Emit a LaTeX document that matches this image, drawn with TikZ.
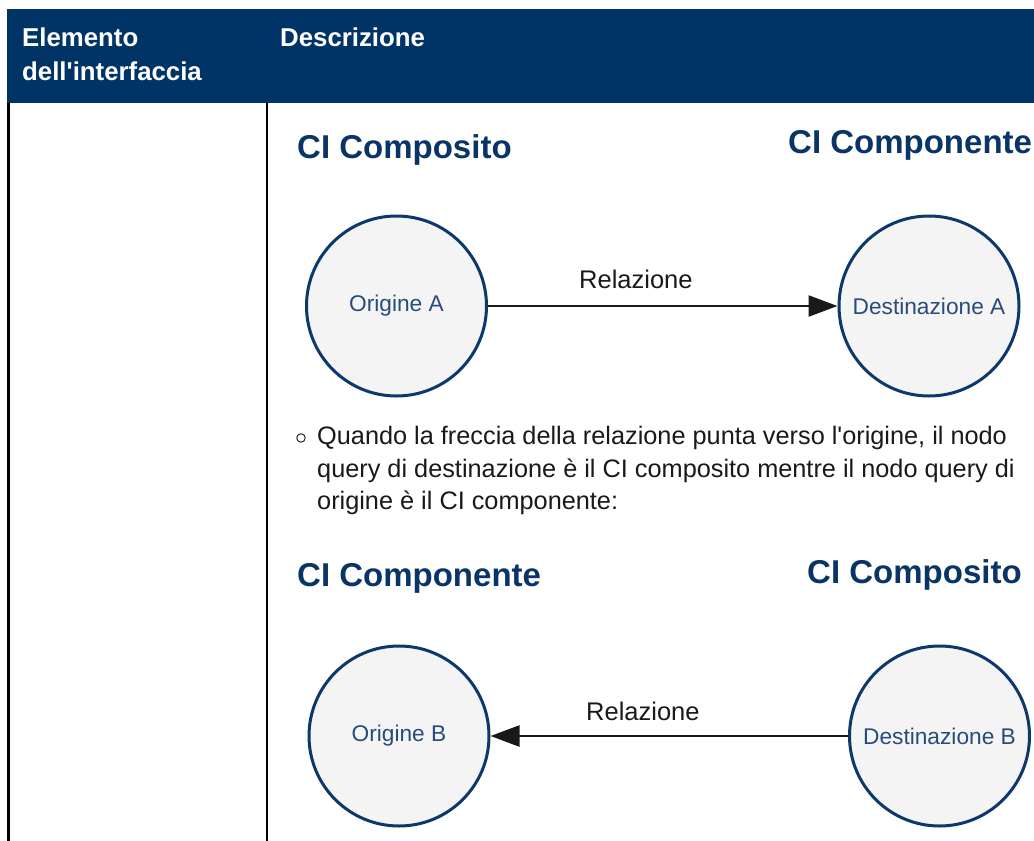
\documentclass[tikz,border=0pt]{standalone}
\usepackage{fontspec}
\setmainfont{Liberation Sans}[Ligatures=TeXOff]
\usetikzlibrary{arrows.meta}
\definecolor{hdr}{RGB}{0,52,102}
\definecolor{titleblue}{RGB}{10,52,102}
\definecolor{cistroke}{RGB}{12,56,108}
\definecolor{cifill}{RGB}{244,244,245}
\definecolor{citext}{RGB}{40,76,122}
\definecolor{bodytxt}{RGB}{25,25,25}
\tikzset{
  hdrtxt/.style={text=white, font=\fontsize{25.8}{30}\selectfont\bfseries, anchor=base west, inner sep=0pt},
  cititle/.style={text=titleblue, font=\fontsize{33}{40}\selectfont\bfseries, anchor=base west, inner sep=0pt},
  cinode/.style={circle, draw=cistroke, line width=3pt, fill=cifill, minimum size=180pt, inner sep=0pt, text=citext, font=\fontsize{22.7}{27}\selectfont},
  reltxt/.style={font=\fontsize{25.5}{30}\selectfont, anchor=base west, inner sep=0pt, text=bodytxt},
  bodyline/.style={font=\fontsize{25.3}{30}\selectfont, anchor=base west, inner sep=0pt, text=bodytxt},
  conn/.style={line width=2.5pt, draw=bodytxt, -{Triangle[length=29pt,width=21pt]}},
  rule/.style={line width=2.5pt, draw=black}
}
\begin{document}
\begin{tikzpicture}[x=1pt,y=-1pt]
\useasboundingbox (0,0) rectangle (1034,841);
% header
\fill[hdr] (7.3,9) rectangle (1034,102.7);
\node[hdrtxt] (h1) at (22,46.7) {Elemento};
\node[hdrtxt] (h2) at (22,80) {dell'interfaccia};
\node[hdrtxt] (h3) at (280,46.7) {Descrizione};
% table rules
\coordinate (l1) at (8.7,102.7);
\coordinate (l2) at (8.7,841);
\coordinate (d1) at (267,102.7);
\coordinate (d2) at (267,841);
\draw[rule] (l1) -- (l2);
\draw[rule] (d1) -- (d2);
% diagram A
\node[cititle] (tA1) at (297,158) {CI Composito};
\node[cititle] (tA2) at (788,153) {CI Componente};
\node[cinode] (oA) at (396.5,306) {Origine A};
\node[cinode] (dA) at (929,306) {Destinazione A};
\node[reltxt] (rA) at (579,288) {Relazione};
\draw[conn] (oA.east) -- (dA.west);
% bullet text
\node[circle, draw=bodytxt, line width=0.9pt, minimum size=8.5pt, inner sep=0pt] (bul) at (301,438) {};
\node[bodyline] (b1) at (317,444) {Quando la freccia della relazione punta verso l'origine, il nodo};
\node[bodyline] (b2) at (317,477) {query di destinazione è il CI composito mentre il nodo query di};
\node[bodyline] (b3) at (317,509) {origine è il CI componente:};
% diagram B
\node[cititle] (tB1) at (297,586) {CI Componente};
\node[cititle] (tB2) at (807,583) {CI Composito};
\node[cinode] (oB) at (399,736) {Origine B};
\node[cinode] (dB) at (939.5,736) {Destinazione B};
\node[reltxt] (rB) at (586,720) {Relazione};
\draw[conn] (dB.west) -- (oB.east);
\end{tikzpicture}
\end{document}
